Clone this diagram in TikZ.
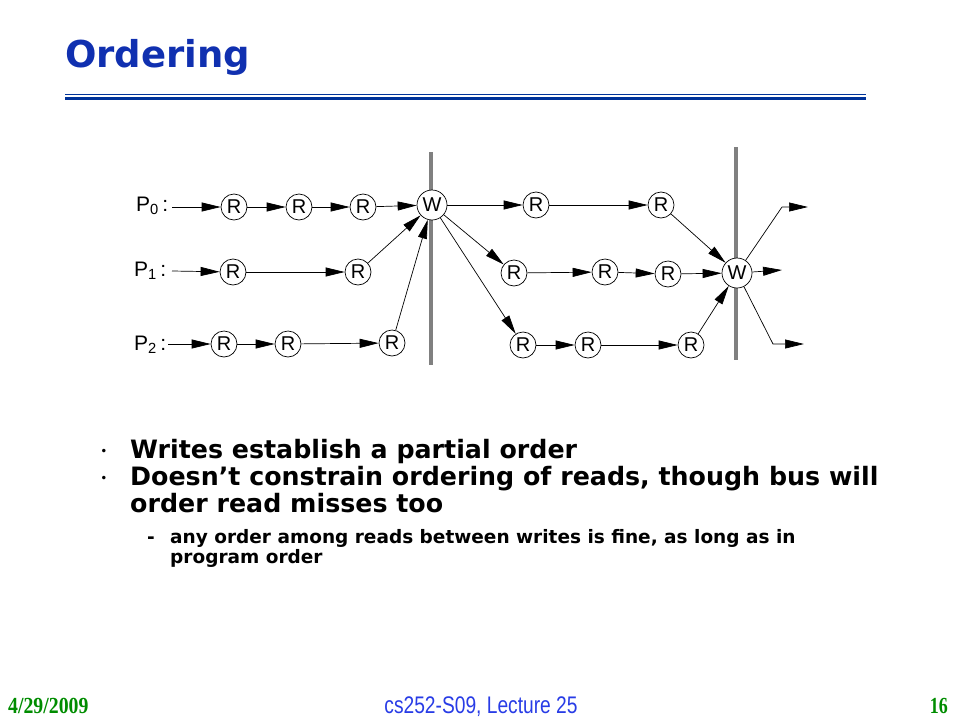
\documentclass[tikz,border=0pt]{standalone}
\usepackage{fontspec}
\usetikzlibrary{arrows.meta}
\newfontfamily\lsans{Liberation Sans}
\newfontfamily\lserif{Liberation Serif}
\newfontfamily\bodyf{DejaVu Sans}
\definecolor{titleblue}{RGB}{16,48,176}
\definecolor{ruleblue}{RGB}{0,51,153}
\definecolor{footgreen}{RGB}{0,140,0}
\definecolor{footblue}{RGB}{40,60,230}
\definecolor{bargray}{RGB}{128,128,128}
\tikzset{
  rd/.style={circle, draw, fill=white, line width=0.7pt, minimum size=26pt, inner sep=0pt, font=\lsans\fontsize{20}{20}\selectfont},
  wr/.style={rd, minimum size=30pt},
  plabel/.style={anchor=west, inner sep=0pt, font=\lsans\fontsize{21}{21}\selectfont},
  arr/.style={-{Triangle[length=19pt,width=9pt]}, line width=0.7pt},
  bar/.style={line width=4pt, bargray},
  dotb/.style={anchor=base, inner sep=0pt, font=\bodyf\fontsize{12}{12}\selectfont},
  bul/.style={anchor=base west, inner sep=0pt, font=\bodyf\bfseries\fontsize{25.3}{25.3}\selectfont},
  subbul/.style={anchor=base west, inner sep=0pt, font=\bodyf\bfseries\fontsize{18.5}{18.5}\selectfont}
}
\begin{document}
\begin{tikzpicture}[x=1pt,y=-1pt]
\useasboundingbox (0,0) rectangle (960,720);
% title
\node[anchor=base west, inner sep=0pt, text=titleblue, font=\bodyf\bfseries\fontsize{37}{37}\selectfont] (title) at (65,67) {Ordering};
\draw[ruleblue, line width=1pt] (65,94) -- (866,94);
\draw[ruleblue, line width=3pt] (65,98) -- (866,98);
% bars
\draw[bar] (431,152) -- (431,365);
\draw[bar] (736,147) -- (736,360);
% labels
\node[plabel] (p0) at (136,206) {P\textsubscript{0}\,:};
\node[plabel] (p1) at (134,271) {P\textsubscript{1}\,:};
\node[plabel] (p2) at (134,345) {P\textsubscript{2}\,:};
% row 0
\node[rd] (r01) at (234,207) {R};
\node[rd] (r02) at (299,207) {R};
\node[rd] (r03) at (363,207) {R};
\node[wr] (w1) at (432,205) {W};
\node[rd] (r04) at (536,205) {R};
\node[rd] (r05) at (661,205) {R};
% row 1
\node[rd] (r11) at (233,272) {R};
\node[rd] (r12) at (358,272) {R};
\node[rd] (r13) at (514,273) {R};
\node[rd] (r14) at (605,272) {R};
\node[rd] (r15) at (668,274) {R};
\node[wr] (w2) at (737,273) {W};
% row 2
\node[rd] (r21) at (224,344) {R};
\node[rd] (r22) at (288,344) {R};
\node[rd] (r23) at (392,343) {R};
\node[rd] (r24) at (523,345) {R};
\node[rd] (r25) at (588,345) {R};
\node[rd] (r26) at (691,345) {R};
% out coordinates
\coordinate (o1a) at (782,207);
\coordinate (o1b) at (808,207);
\coordinate (o2) at (782,270);
\coordinate (o3a) at (773,344);
\coordinate (o3b) at (804,344);
\coordinate (s0) at (172,207);
\coordinate (s1) at (172,271);
\coordinate (s2) at (168,344);
% arrows
\draw[arr] (s0) -- (r01);
\draw[arr] (r01) -- (r02);
\draw[arr] (r02) -- (r03);
\draw[arr] (r03) -- (w1);
\draw[arr] (w1) -- (r04);
\draw[arr] (r04) -- (r05);
\draw[arr] (r05) -- (w2);
\draw[arr] (s1) -- (r11);
\draw[arr] (r11) -- (r12);
\draw[arr] (r12) -- (w1);
\draw[arr] (s2) -- (r21);
\draw[arr] (r21) -- (r22);
\draw[arr] (r22) -- (r23);
\draw[arr] (r23) -- (w1);
\draw[arr] (w1) -- (r13);
\draw[arr] (w1) -- (r24);
\draw[arr] (r13) -- (r14);
\draw[arr] (r14) -- (r15);
\draw[arr] (r15) -- (w2);
\draw[arr] (r24) -- (r25);
\draw[arr] (r25) -- (r26);
\draw[arr] (r26) -- (w2);
\draw[arr] (w2) -- (o1a) -- (o1b);
\draw[arr] (w2) -- (o2);
\draw[arr] (w2) -- (o3a) -- (o3b);
% bullets
\node[dotb] (b1d) at (104,455) {•};
\node[bul] (b1) at (130,458) {Writes establish a partial order};
\node[dotb] (b2d) at (104,482) {•};
\node[bul] (b2) at (130,485) {Doesn’t constrain ordering of reads, though bus will};
\node[bul] (b3) at (130,512) {order read misses too};
\node[subbul] (s1d) at (147,543) {-};
\node[subbul] (s1t) at (170,543) {any order among reads between writes is fine, as long as in};
\node[subbul] (s2t) at (170,563) {program order};
% footer
\node[anchor=base west, inner sep=0pt, text=footgreen, font=\lserif\bfseries\fontsize{23}{23}\selectfont] (date) at (8,713) {\scalebox{0.86}[1]{4/29/2009}};
\node[anchor=base, inner sep=0pt, text=footblue, font=\lsans\fontsize{24}{24}\selectfont] (lect) at (481,713) {\scalebox{0.8}[1]{cs252-S09, Lecture 25}};
\node[anchor=base east, inner sep=0pt, text=footgreen, font=\lserif\bfseries\fontsize{23}{23}\selectfont] (pg) at (948,713) {\scalebox{0.78}[1]{16}};
\end{tikzpicture}
\end{document}
